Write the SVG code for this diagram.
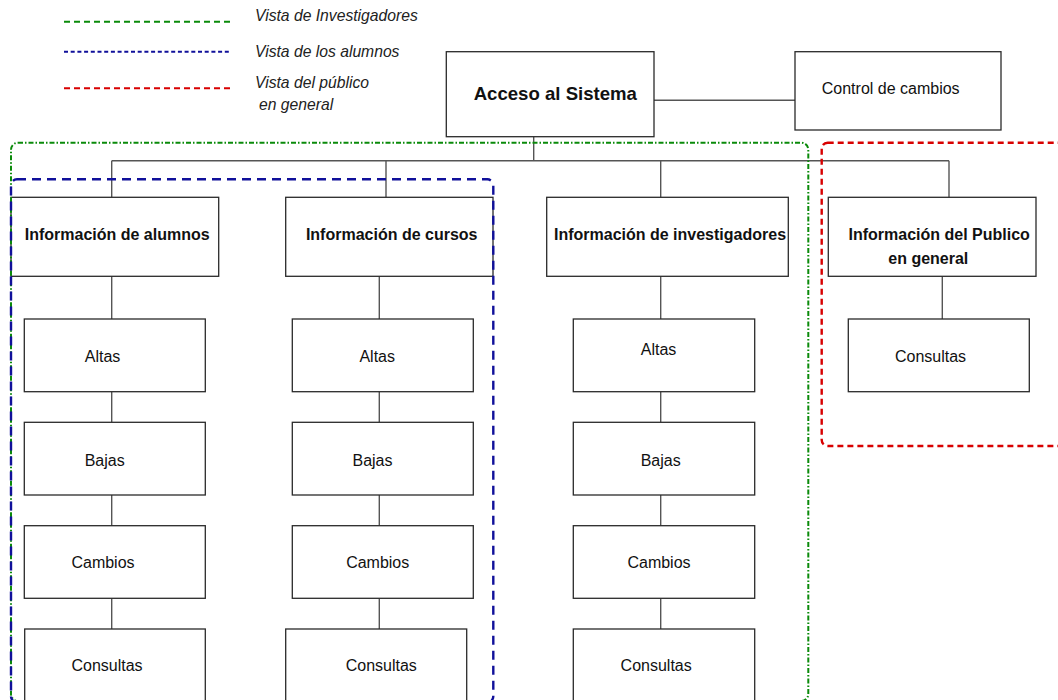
<svg xmlns="http://www.w3.org/2000/svg" width="1058" height="700" viewBox="0 0 1058 700">
  <style>
    .box { fill: #ffffff; stroke: #2a2a2a; stroke-width: 1.3; }
    .wire { fill: none; stroke: #555555; stroke-width: 1.4; }
    .t { font-family: "Liberation Sans", Arial, sans-serif; font-size: 16px; fill: #111111; text-anchor: middle; }
    .b { font-weight: bold; }
    .head { font-family: "Liberation Sans", Arial, sans-serif; font-size: 18.6px; font-weight: bold; fill: #111111; text-anchor: middle; }
    .leg { font-family: "Liberation Sans", Arial, sans-serif; font-size: 15.7px; font-style: italic; fill: #222222; }
    .inv { fill: none; stroke: #0a8a0a; stroke-width: 2; stroke-dasharray: 5 2 1.5 2; }
    .alu { fill: none; stroke: #10109a; stroke-width: 2.4; stroke-dasharray: 9 6; }
    .pub { fill: none; stroke: #d80000; stroke-width: 2.4; stroke-dasharray: 6 4; }
  </style>

  <!-- legend -->
  <g id="legend">
    <line x1="64" y1="21.7" x2="230" y2="21.7" stroke="#0a8a0a" stroke-width="2" stroke-dasharray="6 4"/>
    <line x1="64" y1="51.7" x2="230" y2="51.7" stroke="#10109a" stroke-width="2" stroke-dasharray="4 2.7"/>
    <line x1="64" y1="88.3" x2="230" y2="88.3" stroke="#d80000" stroke-width="2" stroke-dasharray="6 4"/>
    <text class="leg" x="255" y="21">Vista de Investigadores</text>
    <text class="leg" x="255" y="57.3">Vista de los alumnos</text>
    <text class="leg" x="255" y="88.3">Vista del público</text>
    <text class="leg" x="259" y="110">en general</text>
  </g>

  <!-- connectors -->
  <g id="connectors">
    <line class="wire" x1="654" y1="100.3" x2="795" y2="100.3"/>
    <line class="wire" x1="533.7" y1="136.7" x2="533.7" y2="160.7"/>
    <line class="wire" x1="111.7" y1="160.7" x2="949" y2="160.7"/>
    <line class="wire" x1="111.7" y1="160.7" x2="111.7" y2="197.3"/>
    <line class="wire" x1="386" y1="160.7" x2="386" y2="197.3"/>
    <line class="wire" x1="660.7" y1="160.7" x2="660.7" y2="197.3"/>
    <line class="wire" x1="949" y1="160.7" x2="949" y2="197.3"/>

    <path class="wire" d="M111.7 276.3 V319 M111.7 391.7 V422.3 M111.7 495 V525.7 M111.7 598.3 V629"/>
    <path class="wire" d="M379.3 276.3 V319 M379.3 391.7 V422.3 M379.3 495 V525.7 M379.3 598.3 V629"/>
    <path class="wire" d="M660.7 276.3 V319 M660.7 391.7 V422.3 M660.7 495 V525.7 M660.7 598.3 V629"/>
    <line class="wire" x1="942.3" y1="276.3" x2="942.3" y2="319"/>
  </g>

  <!-- top level -->
  <g id="acceso">
    <rect class="box" x="446.3" y="51.7" width="207.7" height="85"/>
    <text class="head" x="555.3" y="100">Acceso al Sistema</text>
  </g>
  <g id="control">
    <rect class="box" x="795" y="51.7" width="206" height="78.3"/>
    <text class="t" x="890.7" y="94.3">Control de cambios</text>
  </g>

  <!-- second level -->
  <g id="info-alumnos">
    <rect class="box" x="11" y="197.3" width="207.7" height="79"/>
    <text class="t b" x="117.2" y="240">Información de alumnos</text>
  </g>
  <g id="info-cursos">
    <rect class="box" x="285.7" y="197.3" width="207.3" height="79"/>
    <text class="t b" x="391.7" y="240">Información de cursos</text>
  </g>
  <g id="info-investigadores">
    <rect class="box" x="546.7" y="197.3" width="241.6" height="79"/>
    <text class="t b" x="670" y="240">Información de investigadores</text>
  </g>
  <g id="info-publico">
    <rect class="box" x="828.3" y="197.3" width="207.7" height="79"/>
    <text class="t b" x="939.2" y="240">Información del Publico</text>
    <text class="t b" x="928.3" y="264">en general</text>
  </g>

  <!-- alumnos column -->
  <g id="alumnos-altas">
    <rect class="box" x="24.3" y="319" width="181" height="72.7"/>
    <text class="t" x="102.5" y="362.3">Altas</text>
  </g>
  <g id="alumnos-bajas">
    <rect class="box" x="24.3" y="422.3" width="181" height="72.7"/>
    <text class="t" x="104.7" y="465.5">Bajas</text>
  </g>
  <g id="alumnos-cambios">
    <rect class="box" x="24.3" y="525.7" width="181" height="72.6"/>
    <text class="t" x="103" y="568">Cambios</text>
  </g>
  <g id="alumnos-consultas">
    <rect class="box" x="24.7" y="629" width="180.6" height="80"/>
    <text class="t" x="107" y="671">Consultas</text>
  </g>

  <!-- cursos column -->
  <g id="cursos-altas">
    <rect class="box" x="292.3" y="319" width="181" height="72.7"/>
    <text class="t" x="377.2" y="362.3">Altas</text>
  </g>
  <g id="cursos-bajas">
    <rect class="box" x="292.3" y="422.3" width="181" height="72.7"/>
    <text class="t" x="372.5" y="465.5">Bajas</text>
  </g>
  <g id="cursos-cambios">
    <rect class="box" x="292.3" y="525.7" width="181" height="72.6"/>
    <text class="t" x="377.7" y="568">Cambios</text>
  </g>
  <g id="cursos-consultas">
    <rect class="box" x="285.7" y="629" width="181" height="80"/>
    <text class="t" x="381.3" y="671">Consultas</text>
  </g>

  <!-- investigadores column -->
  <g id="investigadores-altas">
    <rect class="box" x="573.3" y="319" width="181.4" height="72.7"/>
    <text class="t" x="658.5" y="355">Altas</text>
  </g>
  <g id="investigadores-bajas">
    <rect class="box" x="573.3" y="422.3" width="181.4" height="72.7"/>
    <text class="t" x="660.7" y="465.5">Bajas</text>
  </g>
  <g id="investigadores-cambios">
    <rect class="box" x="573.3" y="525.7" width="181.4" height="72.6"/>
    <text class="t" x="659" y="568">Cambios</text>
  </g>
  <g id="investigadores-consultas">
    <rect class="box" x="573.3" y="629" width="181.4" height="80"/>
    <text class="t" x="656.2" y="671">Consultas</text>
  </g>

  <!-- publico column -->
  <g id="publico-consultas">
    <rect class="box" x="848.3" y="319" width="181" height="72.7"/>
    <text class="t" x="930.5" y="361.7">Consultas</text>
  </g>

  <!-- view boundaries -->
  <g id="views">
    <rect class="inv" x="11" y="142.7" width="797.3" height="558.3" rx="7" ry="7"/>
    <rect class="alu" x="11" y="179.3" width="482.3" height="523" rx="6" ry="6"/>
    <rect class="pub" x="821.7" y="142.7" width="260" height="303.3" rx="6" ry="6"/>
  </g>
</svg>
